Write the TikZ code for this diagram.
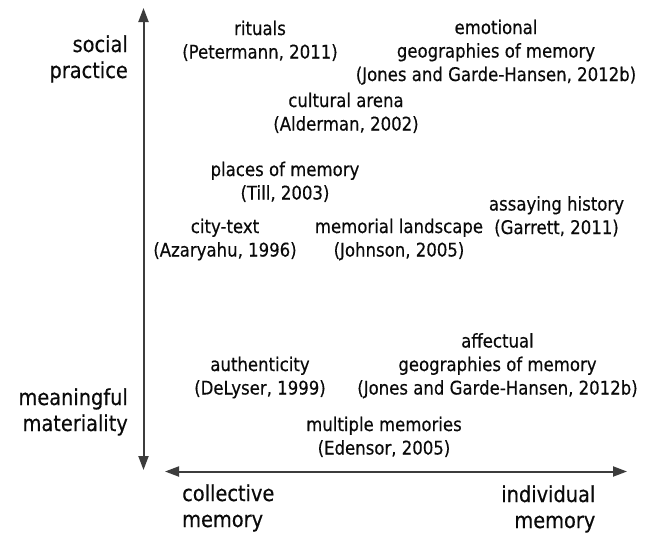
\documentclass[tikz,border=0pt]{standalone}
\usepackage{fontspec}
\setmainfont{DejaVu Sans}[FakeStretch=0.88,FakeBold=0.4]
\usetikzlibrary{arrows.meta}
\definecolor{axisgray}{HTML}{3C3C3C}
\definecolor{txtcol}{HTML}{0A0A0A}
\newcommand{\ctab}[1]{\begin{tabular}[t]{@{}c@{}}#1\end{tabular}}
\newcommand{\rtab}[1]{\begin{tabular}[t]{@{}r@{}}#1\end{tabular}}
\newcommand{\ltab}[1]{\begin{tabular}[t]{@{}l@{}}#1\end{tabular}}
\tikzset{
  lbl/.style={font=\fontsize{18.8}{23.5}\selectfont, text=txtcol, inner sep=0pt, anchor=base},
  axislbl/.style={font=\fontsize{22}{26}\selectfont, text=txtcol, inner sep=0pt},
  axisline/.style={draw=axisgray, line width=2pt,
    {Triangle[length=14pt,width=10pt]}-{Triangle[length=14pt,width=10pt]}},
}
\begin{document}
\begin{tikzpicture}[x=1pt,y=1pt]
\useasboundingbox (0,0) rectangle (651,-536);
% axes
\coordinate (vtop) at (143.5,-8);
\coordinate (vbot) at (143.5,-470);
\coordinate (hleft) at (165,-471.5);
\coordinate (hright) at (627,-471.5);
\draw[axisline] (vtop) -- (vbot);
\draw[axisline] (hleft) -- (hright);
% axis labels
\node[axislbl, anchor=base east] (social) at (128,-52) {\rtab{social\\practice}};
\node[axislbl, anchor=base east] (material) at (128,-405) {\rtab{meaningful\\materiality}};
\node[axislbl, anchor=base west] (collective) at (182,-501) {\ltab{collective\\memory}};
\node[axislbl, anchor=base east] (individual) at (595.5,-502) {\rtab{individual\\memory}};
% concepts
\node[lbl] (rituals) at (260,-35) {\ctab{rituals\\(Petermann, 2011)}};
\node[lbl] (emotional) at (496,-34) {\ctab{emotional\\geographies of memory\\(Jones and Garde-Hansen, 2012b)}};
\node[lbl] (arena) at (346,-107) {\ctab{cultural arena\\(Alderman, 2002)}};
\node[lbl] (places) at (285,-176) {\ctab{places of memory\\(Till, 2003)}};
\node[lbl] (citytext) at (225,-233) {\ctab{city-text\\(Azaryahu, 1996)}};
\node[lbl] (memorial) at (399,-233) {\ctab{memorial landscape\\(Johnson, 2005)}};
\node[lbl] (assaying) at (556.5,-210.5) {\ctab{assaying history\\(Garrett, 2011)}};
\node[lbl] (affectual) at (497.5,-347.5) {\ctab{affectual\\geographies of memory\\(Jones and Garde-Hansen, 2012b)}};
\node[lbl] (authenticity) at (260,-371) {\ctab{authenticity\\(DeLyser, 1999)}};
\node[lbl] (multiple) at (384,-431) {\ctab{multiple memories\\(Edensor, 2005)}};
\end{tikzpicture}
\end{document}
